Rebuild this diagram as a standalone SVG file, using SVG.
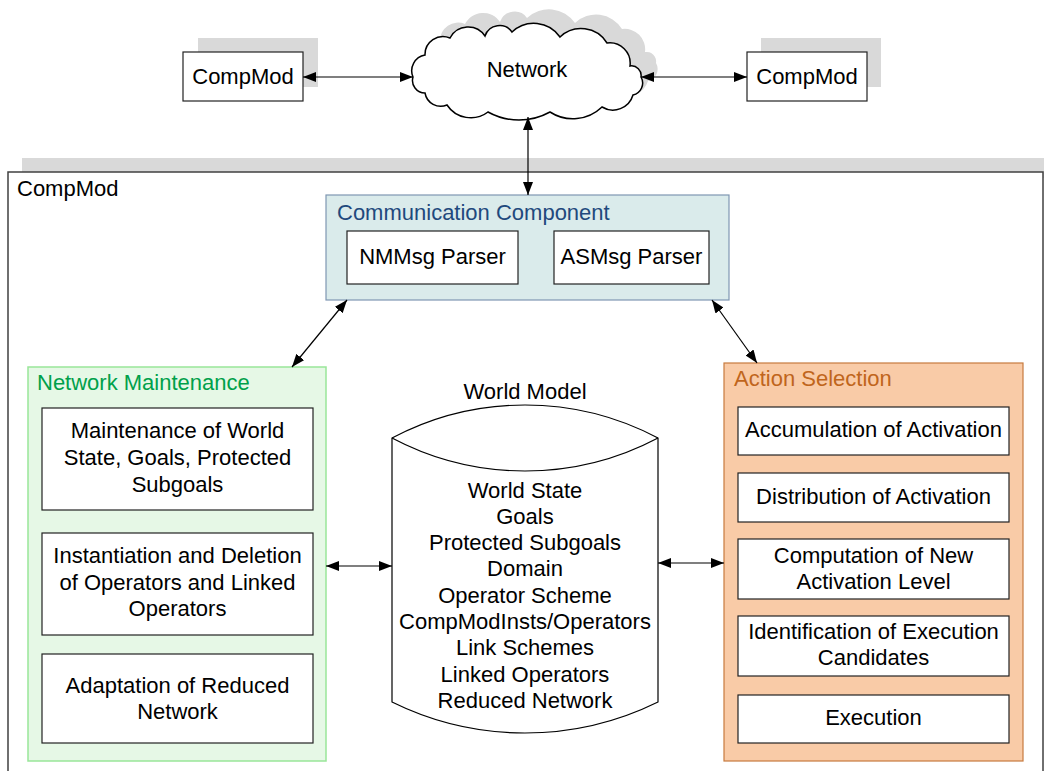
<svg xmlns="http://www.w3.org/2000/svg" width="1044" height="771" viewBox="0 0 1044 771">
  <style>
    text { font-family: "Liberation Sans", Arial, sans-serif; font-size: 22px; fill: #000; }
    .c { text-anchor: middle; }
    .shadow { fill: #d9d9d9; stroke: none; }
    .box { fill: #fff; stroke: #222; stroke-width: 1.2; }
    .conn { fill: none; stroke: #000; stroke-width: 1.2; marker-start: url(#ah); marker-end: url(#ah); }
    .comm { fill: #daebeb; stroke: #7f97b2; stroke-width: 1.2; }
    .nm { fill: #e6f8e6; stroke: #99e699; stroke-width: 1.5; }
    .as { fill: #f9cba7; stroke: #c77b3e; stroke-width: 1.2; }
  </style>
  <defs>
    <marker id="ah" viewBox="0 0 13 10" refX="13" refY="5" markerWidth="13" markerHeight="10" markerUnits="userSpaceOnUse" orient="auto-start-reverse">
      <path d="M0,0 L13,5 L0,10 Z" fill="#000"/>
    </marker>
    <path id="cloud" d="M413,77 A16,16 0 0 1 425,55 A18,18 0 0 1 450,38 A20.3,20.3 0 0 1 485,36 A15.4,15.4 0 0 1 512,32 A31.7,31.7 0 0 1 560,37 A30.6,30.6 0 0 1 607,43 A20.5,20.5 0 0 1 630,66 A9.6,9.6 0 0 1 641,77 A12.2,12.2 0 0 1 633,95 A21,21 0 0 1 602,107 A42,42 0 0 1 550,112 A64,64 0 0 1 488,112 A28.5,28.5 0 0 1 447,105 A16,16 0 0 1 425,93 A12.5,12.5 0 0 1 413,77 Z"/>
  </defs>

  <!-- outer component module -->
  <g id="compmod-main">
    <rect class="shadow" x="22" y="158" width="1030" height="20"/>
    <rect x="8" y="172" width="1035" height="610" fill="#fff" stroke="#404040" stroke-width="1.5"/>
    <text x="17" y="196">CompMod</text>
  </g>

  <!-- peer modules and network -->
  <g id="compmod-left">
    <rect class="shadow" x="198" y="38" width="120" height="49"/>
    <rect class="box" x="183" y="52" width="120" height="49"/>
    <text class="c" x="243" y="84">CompMod</text>
  </g>
  <g id="network">
    <use href="#cloud" class="shadow" transform="translate(15,-14)"/>
    <use href="#cloud" fill="#fff" stroke="#000" stroke-width="1.5"/>
    <text class="c" x="527" y="77">Network</text>
  </g>
  <g id="compmod-right">
    <rect class="shadow" x="761" y="38" width="120" height="49"/>
    <rect class="box" x="747" y="52" width="120" height="49"/>
    <text class="c" x="807" y="84">CompMod</text>
  </g>

  <!-- communication component -->
  <g id="communication">
    <rect class="comm" x="326" y="195" width="403" height="105"/>
    <text x="337" y="220" style="fill:#1f497d">Communication Component</text>
    <rect class="box" x="347" y="231" width="171" height="53"/>
    <text class="c" x="432.5" y="264">NMMsg Parser</text>
    <rect class="box" x="554" y="231" width="155" height="53"/>
    <text class="c" x="631.5" y="264">ASMsg Parser</text>
  </g>

  <!-- network maintenance -->
  <g id="network-maintenance">
    <rect class="nm" x="28" y="367" width="298" height="394"/>
    <text x="37" y="390" style="fill:#00a04a">Network Maintenance</text>
    <rect class="box" x="42" y="408" width="271" height="102"/>
    <text class="c" x="177.5" y="438">Maintenance of World</text>
    <text class="c" x="177.5" y="465">State, Goals, Protected</text>
    <text class="c" x="177.5" y="492">Subgoals</text>
    <rect class="box" x="42" y="533" width="271" height="102"/>
    <text class="c" x="177.5" y="563">Instantiation and Deletion</text>
    <text class="c" x="177.5" y="590">of Operators and Linked</text>
    <text class="c" x="177.5" y="616">Operators</text>
    <rect class="box" x="42" y="654" width="271" height="89"/>
    <text class="c" x="177.5" y="693">Adaptation of Reduced</text>
    <text class="c" x="177.5" y="719">Network</text>
  </g>

  <!-- world model data store -->
  <g id="world-model">
    <text class="c" x="525" y="399">World Model</text>
    <path d="M392,438 A284.5,284.5 0 0 1 658,438 L658,702 A300.8,300.8 0 0 1 392,702 Z" fill="#fff" stroke="#000" stroke-width="1.2"/>
    <path d="M392,438 A284.5,284.5 0 0 0 658,438" fill="none" stroke="#000" stroke-width="1.2"/>
    <text class="c" x="525" y="498">World State</text>
    <text class="c" x="525" y="524">Goals</text>
    <text class="c" x="525" y="550">Protected Subgoals</text>
    <text class="c" x="525" y="576">Domain</text>
    <text class="c" x="525" y="603">Operator Scheme</text>
    <text class="c" x="525" y="629">CompModInsts/Operators</text>
    <text class="c" x="525" y="655">Link Schemes</text>
    <text class="c" x="525" y="682">Linked Operators</text>
    <text class="c" x="525" y="708">Reduced Network</text>
  </g>

  <!-- action selection -->
  <g id="action-selection">
    <rect class="as" x="724" y="363" width="299" height="398"/>
    <text x="734" y="386" style="fill:#c0651c">Action Selection</text>
    <rect class="box" x="738" y="407" width="271" height="48"/>
    <text class="c" x="873.5" y="437">Accumulation of Activation</text>
    <rect class="box" x="738" y="473" width="271" height="49"/>
    <text class="c" x="873.5" y="504">Distribution of Activation</text>
    <rect class="box" x="738" y="539" width="271" height="60"/>
    <text class="c" x="873.5" y="563">Computation of New</text>
    <text class="c" x="873.5" y="589">Activation Level</text>
    <rect class="box" x="738" y="616" width="271" height="60"/>
    <text class="c" x="873.5" y="639">Identification of Execution</text>
    <text class="c" x="873.5" y="665">Candidates</text>
    <rect class="box" x="738" y="695" width="271" height="48"/>
    <text class="c" x="873.5" y="725">Execution</text>
  </g>

  <!-- connectors -->
  <g id="connectors">
    <line class="conn" x1="303" y1="77" x2="413" y2="77"/>
    <line class="conn" x1="641" y1="77" x2="747" y2="77"/>
    <line class="conn" x1="528" y1="117" x2="528" y2="195"/>
    <line class="conn" x1="347" y1="300" x2="292" y2="367"/>
    <line class="conn" x1="712" y1="300" x2="757" y2="363"/>
    <line class="conn" x1="326" y1="566" x2="392" y2="566"/>
    <line class="conn" x1="658" y1="563" x2="724" y2="563"/>
  </g>
</svg>
